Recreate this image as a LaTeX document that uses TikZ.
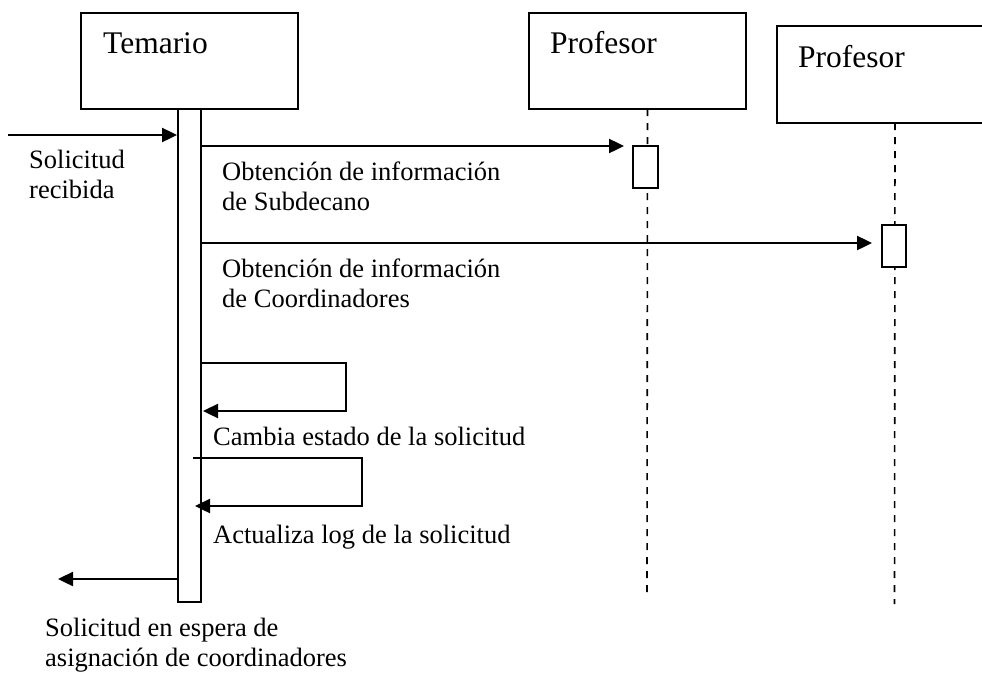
\documentclass[tikz,border=0pt]{standalone}
\usepackage{fontspec}
\setmainfont{Liberation Serif}
\usetikzlibrary{arrows.meta}
\begin{document}
\begin{tikzpicture}[x=1pt,y=-1pt,
  objbox/.style={draw,line width=2pt,rectangle,inner sep=0pt},
  actbox/.style={draw,line width=2pt,rectangle,inner sep=0pt,fill=white},
  lifeline/.style={line width=1.6pt,dash pattern=on 7pt off 7pt},
  msg/.style={line width=2.4pt,-{Triangle[length=15pt,width=14pt]}},
  hdr/.style={anchor=base west,inner sep=0pt,font=\fontsize{31.5}{36}\selectfont},
  lbl/.style={anchor=base west,inner sep=0pt,align=left,font=\fontsize{26.5}{30}\selectfont}
]
\useasboundingbox (0,0) rectangle (982,672);
% object boxes
\node[objbox,minimum width=217pt,minimum height=96pt] (tem) at (189.5,61) {};
\node[objbox,minimum width=217pt,minimum height=96pt] (p1) at (637.5,61) {};
\node[objbox,minimum width=220pt,minimum height=97pt] (p2) at (887,74.5) {};
\node[hdr] (temt) at (103,53) {Temario};
\node[hdr] (p1t) at (550,53) {Profesor};
\node[hdr] (p2t) at (798,67) {Profesor};
% lifelines
\coordinate (l1end) at (647,592);
\coordinate (l2end) at (894.5,604);
\draw[lifeline] (647.5,109) -- (l1end);
\draw[lifeline] (895,123) -- (l2end);
% activation bars
\node[actbox,minimum width=23pt,minimum height=493pt] (bar) at (189.5,355.5) {};
\node[actbox,minimum width=25pt,minimum height=42pt] (a1) at (645.5,167) {};
\node[actbox,minimum width=24pt,minimum height=42pt] (a2) at (894,246) {};
% incoming
\coordinate (in) at (8,135);
\draw[msg] (in) -- (in -| bar.west);
\node[lbl] (inl) at (29,198) {Solicitud\\recibida};
% messages
\draw[msg,shorten >=8pt] (bar.east |- 0,146) -- (a1.west |- 0,146);
\node[lbl] (m1l) at (222,210) {Obtención de información\\de Subdecano};
\draw[msg,shorten >=9pt] (bar.east |- 0,243) -- (a2.west |- 0,243);
\node[lbl] (m2l) at (222,307) {Obtención de información\\de Coordinadores};
% self calls
\coordinate (s1) at (346,363);
\draw[msg] (bar.east |- s1) -- (s1) -- (346,411) -- (203,411);
\node[lbl] (s1l) at (213,445) {Cambia estado de la solicitud};
\coordinate (s2) at (362,458);
\draw[msg] (193,458) -- (s2) -- (362,506) -- (195,506);
\node[lbl] (s2l) at (213,543) {Actualiza log de la solicitud};
% return
\coordinate (out) at (58,579);
\draw[msg] (bar.west |- out) -- (out);
\node[lbl] (outl) at (45,666) {Solicitud en espera de\\asignación de coordinadores};
\end{tikzpicture}
\end{document}
